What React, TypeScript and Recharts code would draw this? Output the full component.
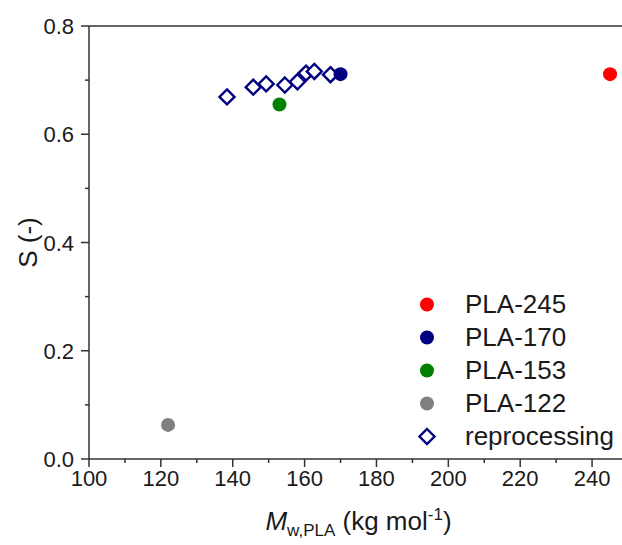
import {
  ScatterChart,
  Scatter,
  XAxis,
  YAxis,
  ReferenceLine,
  Legend,
} from 'recharts';

// ---------------------------------------------------------------------------
// Data
// ---------------------------------------------------------------------------

const SAMPLE_NAMES = ['PLA-245', 'PLA-170', 'PLA-153', 'PLA-122'];
const SAMPLE_COLORS = ['#FF0000', '#000080', '#008000', '#808080'];
const SAMPLE_MW = [245, 170, 153, 122];
const SAMPLE_S = [0.711, 0.711, 0.655, 0.063];

const REPROC_NAME = 'reprocessing';
const REPROC_COLOR = '#000080';
const REPROC_MW = [138.4, 145.7, 149.3, 154.5, 158.0, 160.4, 162.7, 167.2];
const REPROC_S = [0.669, 0.687, 0.693, 0.691, 0.697, 0.713, 0.716, 0.71];

const X_TICKS = [100, 110, 120, 130, 140, 150, 160, 170, 180, 190, 200, 210, 220, 230, 240, 250];
const Y_TICKS = [0, 0.1, 0.2, 0.3, 0.4, 0.5, 0.6, 0.7, 0.8];

const FONT = '"Liberation Sans", Arial, sans-serif';
const AXIS_COLOR = '#333333';
const TEXT_COLOR = '#1a1a1a';

// ---------------------------------------------------------------------------
// Helpers
// ---------------------------------------------------------------------------

const sampleSeries = SAMPLE_NAMES.map((name, i) => ({
  name,
  color: SAMPLE_COLORS[i],
  data: [{ mw: SAMPLE_MW[i], s: SAMPLE_S[i] }],
}));

const reprocData = REPROC_MW.map((mw, i) => ({ mw, s: REPROC_S[i] }));

function XTick({ x, y, payload }: any) {
  const v = payload.value as number;
  const major = v % 20 === 0;
  return (
    <g>
      <line x1={x} x2={x} y1={y} y2={y + (major ? 8 : 4)} stroke={AXIS_COLOR} strokeWidth={1.5} />
      {major && v <= 240 && (
        <text x={x} y={y + 27} textAnchor="middle" fontSize={22} fontFamily={FONT} fill={TEXT_COLOR}>
          {v}
        </text>
      )}
    </g>
  );
}

function YTick({ x, y, payload }: any) {
  const v = payload.value as number;
  const major = Math.round(v * 10) % 2 === 0;
  return (
    <g>
      <line x1={x} x2={x - (major ? 8 : 4)} y1={y} y2={y} stroke={AXIS_COLOR} strokeWidth={1.5} />
      {major && (
        <text x={x - 15} y={y + 8} textAnchor="end" fontSize={22} fontFamily={FONT} fill={TEXT_COLOR}>
          {v.toFixed(1)}
        </text>
      )}
    </g>
  );
}

function Dot(props: any) {
  const { cx, cy, fill } = props;
  return <circle cx={cx} cy={cy} r={7} fill={fill} />;
}

function Diamond(props: any) {
  const { cx, cy } = props;
  const r = 7.5;
  return (
    <path
      d={`M${cx},${cy - r}L${cx + r},${cy}L${cx},${cy + r}L${cx - r},${cy}Z`}
      fill="#fff"
      stroke={REPROC_COLOR}
      strokeWidth={2.4}
    />
  );
}

function LegendBox() {
  const rows = [
    ...SAMPLE_NAMES.map((name, i) => ({ name, color: SAMPLE_COLORS[i], open: false })),
    { name: REPROC_NAME, color: REPROC_COLOR, open: true },
  ];
  return (
    <div style={{ fontFamily: FONT, fontSize: 26, color: TEXT_COLOR }}>
      {rows.map((r) => (
        <div key={r.name} style={{ display: 'flex', alignItems: 'center', height: 33 }}>
          <svg width={28} height={33} style={{ marginRight: 24, flex: 'none' }}>
            {r.open ? (
              <path d="M14,9L21.5,16.5L14,24L6.5,16.5Z" fill="#fff" stroke={r.color} strokeWidth={2.4} />
            ) : (
              <circle cx={14} cy={16.5} r={7} fill={r.color} />
            )}
          </svg>
          <span style={{ lineHeight: '33px', whiteSpace: 'nowrap' }}>{r.name}</span>
        </div>
      ))}
    </div>
  );
}

function XTitle(props: any) {
  const vb = props.viewBox;
  const cx = vb.x + vb.width / 2;
  return (
    <text x={cx} y={vb.y + 71} textAnchor="middle" fontFamily={FONT} fontSize={26} fill={TEXT_COLOR}>
      <tspan fontStyle="italic">M</tspan>
      <tspan fontSize={17} dy={6}>w,PLA</tspan>
      <tspan dy={-6}> (kg mol</tspan>
      <tspan fontSize={17} dy={-10}>-1</tspan>
      <tspan dy={10}>)</tspan>
    </text>
  );
}

// ---------------------------------------------------------------------------
// Component
// ---------------------------------------------------------------------------

export default function App() {
  return (
    <div
      style={{
        position: 'absolute',
        left: 0,
        top: 0,
        width: 622,
        height: 545,
        overflow: 'hidden',
        background: '#fff',
      }}
    >
      <ScatterChart
        width={638}
        height={545}
        margin={{ top: 26, right: 10, bottom: 12, left: 8 }}
      >
        <XAxis
          type="number"
          dataKey="mw"
          domain={[100, 250]}
          ticks={X_TICKS}
          interval={0}
          height={74}
          tickSize={0}
          tickMargin={0}
          tickLine={false}
          tick={<XTick />}
          axisLine={{ stroke: AXIS_COLOR, strokeWidth: 1.5 }}
          label={<XTitle />}
        />
        <YAxis
          type="number"
          dataKey="s"
          domain={[0, 0.8]}
          ticks={Y_TICKS}
          interval={0}
          width={81}
          tickSize={0}
          tickMargin={0}
          tickLine={false}
          tick={<YTick />}
          axisLine={{ stroke: AXIS_COLOR, strokeWidth: 1.5 }}
          label={{
            value: 'S (-)',
            angle: -90,
            position: 'insideLeft',
            offset: 20,
            style: { fontFamily: FONT, fontSize: 26, fill: TEXT_COLOR, textAnchor: 'middle' },
          }}
        />
        <ReferenceLine y={0.8} stroke={AXIS_COLOR} strokeWidth={1.5} />

        <Scatter
          name={REPROC_NAME}
          data={reprocData}
          shape={<Diamond />}
          isAnimationActive={false}
        />
        {sampleSeries.map((s) => (
          <Scatter
            key={s.name}
            name={s.name}
            data={s.data}
            fill={s.color}
            shape={<Dot />}
            isAnimationActive={false}
          />
        ))}

        <Legend
          layout="vertical"
          align="center"
          verticalAlign="middle"
          content={<LegendBox />}
          wrapperStyle={{ left: 413, top: 288, width: 220 }}
        />
      </ScatterChart>
    </div>
  );
}
